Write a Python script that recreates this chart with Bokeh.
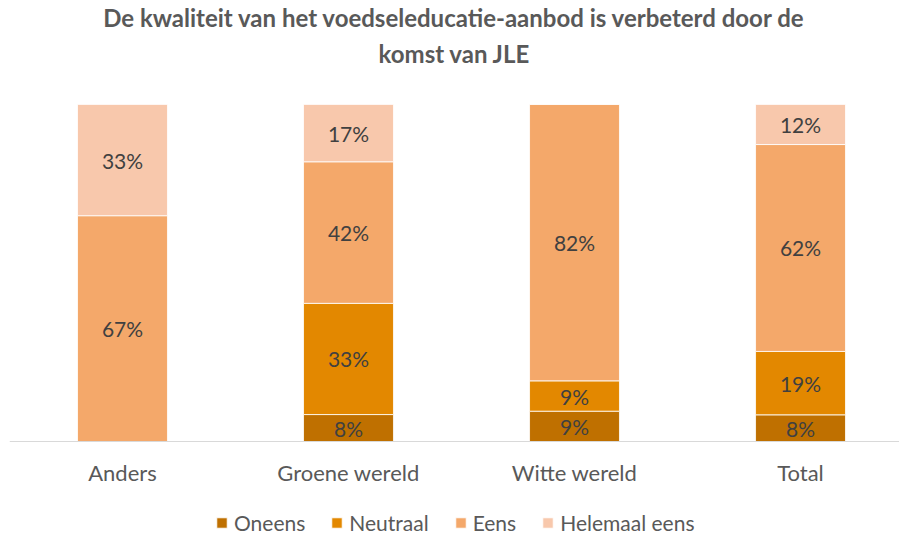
from bokeh.plotting import figure
from bokeh.models import (ColumnDataSource, Range1d, FixedTicker, Legend, LegendItem, Title)
from bokeh.core.properties import value
from bokeh.embed import file_html
from bokeh.resources import INLINE

categories = ["Anders", "Groene wereld", "Witte wereld", "Total"]
series = ["Oneens", "Neutraal", "Eens", "Helemaal eens"]
oneens = [0, 8, 9, 8]
neutraal = [0, 33, 9, 19]
eens = [67, 42, 82, 62]
helemaal_eens = [33, 17, 0, 12]
colors = ["#BF7000", "#E38800", "#F4A86A", "#F8C8AC"]
title_lines = ["De kwaliteit van het voedseleducatie-aanbod is verbeterd door de",
               "komst van JLE"]

values = [oneens, neutraal, eens, helemaal_eens]
xs = [i + 0.5 for i in range(len(categories))]
totals = [sum(v[i] for v in values) for i in range(len(categories))]

data = {"x": xs}
for name, vals in zip(series, values):
    data[name] = [vals[i] / totals[i] for i in range(len(categories))]
source = ColumnDataSource(data)

p = figure(width=899, height=535, x_range=Range1d(0, 3.938), y_range=Range1d(-0.2789, 1),
           min_border_left=9, min_border_right=0, min_border_top=104, min_border_bottom=0,
           y_axis_location=None, output_backend="svg", toolbar_location=None)
p.outline_line_color = None
p.xgrid.visible = False
p.ygrid.visible = False
p.background_fill_color = "white"

renderers = p.vbar_stack(series, x="x", width=0.398, source=source, color=colors,
                         line_color="white", line_width=0.8)

# data labels
lx, ly, lt = [], [], []
for i in range(len(categories)):
    cum = 0.0
    for vals in values:
        frac = vals[i] / totals[i]
        if vals[i] > 0:
            lx.append(xs[i])
            ly.append(cum + frac / 2)
            lt.append(f"{vals[i]}%")
        cum += frac
p.text(x=lx, y=ly, text=lt, text_align="center", text_baseline="middle",
       text_font=value("Lato"), text_font_size="21px", text_color="#404040")

ax = p.xaxis[0]
ax.fixed_location = 0
ax.ticker = FixedTicker(ticks=xs)
ax.major_label_overrides = {x: c for x, c in zip(xs, categories)}
ax.axis_line_color = "#D9D9D9"
ax.axis_line_width = 1
ax.major_tick_line_color = None
ax.minor_tick_line_color = None
ax.major_label_standoff = 11
ax.major_label_text_font = "Lato"
ax.major_label_text_font_size = "22px"
ax.major_label_text_color = "#595959"

legend = Legend(items=[LegendItem(label=s, renderers=[r]) for s, r in zip(series, renderers)],
                location=(206, 0), orientation="horizontal", padding=0, margin=0,
                glyph_width=13, glyph_height=13, label_standoff=6, spacing=25,
                label_text_font="Lato", label_text_font_size="21px",
                label_text_color="#595959", border_line_color=None,
                background_fill_alpha=0)
p.add_layout(legend, "center")

# trailing empty line keeps the title block clear of the plot area
title = Title(text="\n".join(title_lines) + "\n", align="center", text_align="center",
              text_font="Lato", text_font_size="24px", text_font_style="bold",
              text_color="#595959", text_line_height=1.25, standoff=0)
p.add_layout(title, "above")

open("out.html", "w").write(file_html(p, INLINE))
